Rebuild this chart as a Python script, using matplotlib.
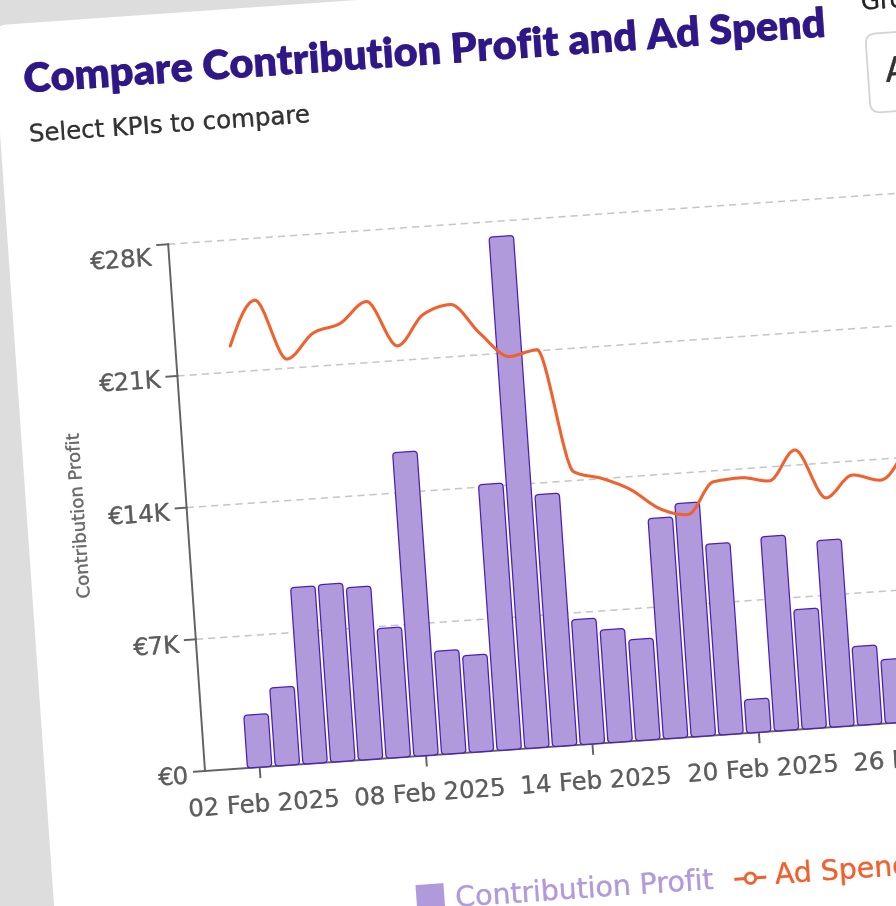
import numpy as np
import pandas as pd
import matplotlib
matplotlib.use('Agg')
import matplotlib.pyplot as plt
import matplotlib.dates as mdates
from matplotlib.transforms import Affine2D
from matplotlib.patches import FancyBboxPatch, Rectangle, Circle, PathPatch
from matplotlib.lines import Line2D
from matplotlib.path import Path

# ---------------- data ----------------
bar_dates = pd.date_range('2025-02-02', '2025-02-25', freq='D')
contribution_profit = [2800, 4150, 9380, 9430, 9170, 6890, 16140, 5480, 5140, 14130,
                       27190, 13390, 6640, 5990, 5370, 11710, 12400, 10140, 1770, 10330,
                       6350, 9920, 4180, 3380]
spend_dates = pd.date_range('2025-02-02', '2025-02-26', freq='D')
ad_spend = [22390, 24720, 21490, 22760, 23180, 24240, 21780, 23340, 23770, 22120,
            20800, 21060, 14480, 14010, 13320, 12200, 11780, 13420, 13530, 13260,
            14800, 12150, 13260, 12890, 14640]
y_ticks = [0, 7000, 14000, 21000, 28000]
y_tick_labels = ['€0', '€7K', '€14K', '€21K', '€28K']
x_tick_dates = pd.to_datetime(['2025-02-02', '2025-02-08', '2025-02-14',
                               '2025-02-20', '2025-02-26'])
x_tick_labels = [d.strftime('%d %b %Y') for d in x_tick_dates]
title_text = 'Compare Contribution Profit and Ad Spend'
subtitle_text = 'Select KPIs to compare'
y_axis_label = 'Contribution Profit'
legend_labels = ['Contribution Profit', 'Ad Spend']
control_label = 'Group by'
control_value = 'All'

# ---------------- style ----------------
plt.rcParams['lines.scale_dashes'] = False
BG = '#dddddd'
BAR_FILL = '#b19adb'
BAR_EDGE = '#4a1fb5'
ORANGE = '#f2602d'
AX_C = '#626262'
GRID_C = '#c6c6c6'
LABEL_C = '#5c5c5c'
TITLE_C = '#2f1787'
FONT = 'DejaVu Sans'
TFONT = 'Lato'

W, H, DPI = 896, 906, 100
fig = plt.figure(figsize=(W / DPI, H / DPI), dpi=DPI)
fig.patch.set_facecolor(BG)
PT2PX = DPI / 72.0

OX, OY = 205.0, H - 771.0      # axes origin in display px
ANG = 4.0                       # whole card is rotated
PX_DAY = 27.8
PLOT_W, PLOT_H = 1000.0, 528.0

ax = fig.add_axes([OX / W, OY / H, PLOT_W / W, PLOT_H / H])
ax.set_axis_off()
ax.patch.set_visible(False)

xb = mdates.date2num(bar_dates)
xs = mdates.date2num(spend_dates)
xt = mdates.date2num(x_tick_dates)
x_left = xb[0] - 54.8 / PX_DAY
x_right = x_left + PLOT_W / PX_DAY
Y_TOP = y_ticks[-1]
ax.set_xlim(x_left, x_right)
ax.set_ylim(0, Y_TOP)
Y_PER_PX = Y_TOP / PLOT_H

rot = Affine2D().rotate_deg_around(OX, OY, ANG)
T = ax.transData + rot


def T_off(du, dv):
    return ax.transData + Affine2D().translate(du, dv) + rot


PX = Affine2D().translate(OX, OY) + rot
renderer = fig.canvas.get_renderer()


def size_for(s, target, **kw):
    t = fig.text(0, 0, s, fontsize=100, **kw)
    w = t.get_window_extent(renderer).width
    t.remove()
    return 100.0 * target / w


def add(a):
    ax.add_artist(a)
    a.set_clip_on(False)
    return a


# card
add(FancyBboxPatch((-160, -700), 1700, 758.5 + 700,
                   boxstyle='round,pad=0,rounding_size=14', transform=PX,
                   facecolor='white', edgecolor='none', zorder=0))

# gridlines
for yv in y_ticks[1:]:
    add(Line2D([x_left, x_right], [yv, yv], transform=T, color=GRID_C, lw=1.1,
               dashes=(5.2, 3.6), zorder=1))

# axes lines + ticks
add(Line2D([x_left, x_left], [0, Y_TOP], transform=T, color=AX_C, lw=1.4, zorder=2))
add(Line2D([x_left, x_right], [0, 0], transform=T, color=AX_C, lw=1.4, zorder=2))
for yv in y_ticks:
    add(Line2D([x_left - 11 / PX_DAY, x_left], [yv, yv], transform=T, color=AX_C,
               lw=1.4, zorder=2))
for xv in xt:
    add(Line2D([xv, xv], [0, -10 * Y_PER_PX], transform=T, color=AX_C, lw=1.4, zorder=2))

# bars (rounded tops)
bars = ax.bar(xb, contribution_profit, width=0.88, transform=T, zorder=3)
rs = 3.5 / PX_DAY
aspect = Y_PER_PX * PX_DAY
for r in bars:
    add(FancyBboxPatch((r.get_x(), r.get_y()), r.get_width(), r.get_height(),
                       boxstyle=f'round,pad=0,rounding_size={rs}', mutation_aspect=aspect,
                       transform=T, facecolor=BAR_FILL, edgecolor=BAR_EDGE, lw=0.9,
                       zorder=3))
    r.remove()


# ad spend line (monotone-x cubic)
def monotone_path(x, y):
    x = np.asarray(x, float)
    y = np.asarray(y, float)
    n = len(x)
    h = np.diff(x)
    s = np.diff(y) / h
    t = np.zeros(n)
    for i in range(1, n - 1):
        h0, h1 = h[i - 1], h[i]
        s0, s1 = s[i - 1], s[i]
        p = (s0 * h1 + s1 * h0) / (h0 + h1)
        sg = (1 if s0 >= 0 else -1) + (1 if s1 >= 0 else -1)
        t[i] = sg * min(abs(s0), abs(s1), 0.5 * abs(p))
    t[0] = (3 * s[0] - t[1]) / 2
    t[-1] = (3 * s[-1] - t[-2]) / 2
    verts = [(x[0], y[0])]
    codes = [Path.MOVETO]
    for i in range(n - 1):
        d = h[i] / 3
        verts += [(x[i] + d, y[i] + d * t[i]), (x[i + 1] - d, y[i + 1] - d * t[i + 1]),
                  (x[i + 1], y[i + 1])]
        codes += [Path.CURVE4] * 3
    return Path(verts, codes)


add(PathPatch(monotone_path(xs, ad_spend), transform=T, facecolor='none',
              edgecolor=ORANGE, lw=2.2, zorder=4, capstyle='round', joinstyle='round'))

# tick labels
fs_tick = size_for('02 Feb 2025', 152, family=FONT)
cap_tick = 0.729 * fs_tick * PT2PX
y_label_dv = [-3, -3, -3, -2, -11]
for yv, lab, dv in zip(y_ticks, y_tick_labels, y_label_dv):
    add(ax.text(x_left, yv, lab, transform=T_off(-17, dv - cap_tick / 2), ha='right',
                va='baseline', rotation=ANG, rotation_mode='anchor', fontsize=fs_tick,
                family=FONT, color=LABEL_C, zorder=5))
for xv, lab in zip(xt, x_tick_labels):
    add(ax.text(xv, 0, lab, transform=T_off(1.5, -36 - cap_tick / 2), ha='center',
                va='baseline', rotation=ANG, rotation_mode='anchor', fontsize=fs_tick,
                family=FONT, color=LABEL_C, zorder=5))

# y axis label
fs_yl = size_for(y_axis_label, 166, family=FONT)
cap_yl = 0.729 * fs_yl * PT2PX
add(ax.text(-108 + cap_yl / 2, 264, y_axis_label, transform=PX, ha='center',
            va='baseline', rotation=90 + ANG, rotation_mode='anchor', fontsize=fs_yl,
            family=FONT, color='#6a6a6a', zorder=5))

# title / subtitle
fs_title = size_for(title_text, 806, family=TFONT, weight='heavy')
add(ax.text(-133, 688.5, title_text, transform=PX, ha='left', va='baseline',
            rotation=ANG, rotation_mode='anchor', fontsize=fs_title, family=TFONT,
            weight='heavy', color=TITLE_C, zorder=5))
fs_sub = size_for(subtitle_text, 280, family=FONT)
add(ax.text(-131, 640, subtitle_text, transform=PX, ha='left', va='baseline',
            rotation=ANG, rotation_mode='anchor', fontsize=fs_sub, family=FONT,
            color='#333333', zorder=5))

# control at top right
add(ax.text(708.5, 713, control_label, transform=PX, ha='left', va='baseline',
            rotation=ANG, rotation_mode='anchor', fontsize=fs_sub, family=FONT,
            color='#222222', zorder=5))
add(FancyBboxPatch((710, 610), 300, 79, boxstyle='round,pad=0,rounding_size=10',
                   transform=PX, facecolor='white', edgecolor='#d4d4d4', lw=1.3, zorder=4))
fs_ctl = 25 / 0.729 / PT2PX
add(ax.text(727, 640, control_value, transform=PX, ha='left', va='baseline',
            rotation=ANG, rotation_mode='anchor', fontsize=fs_ctl, family=FONT,
            color='#333333', zorder=5))

# legend
fs_leg = size_for(legend_labels[0], 259, family=FONT)
cap_leg = 0.729 * fs_leg * PT2PX
add(Rectangle((202, -156.5), 28, 28, transform=PX, facecolor=BAR_FILL,
              edgecolor='none', zorder=5))
add(ax.text(241, -142.5 - cap_leg / 2, legend_labels[0], transform=PX, ha='left',
            va='baseline', rotation=ANG, rotation_mode='anchor', fontsize=fs_leg,
            family=FONT, color=BAR_FILL, zorder=5))
add(Line2D([522, 551], [-145, -145], transform=PX, color=ORANGE, lw=2.2, zorder=5))
add(Circle((536.6, -145), 5.2, transform=PX, facecolor='white', edgecolor=ORANGE,
           lw=2.0, zorder=6))
add(ax.text(561, -142.5 - cap_leg / 2, legend_labels[1], transform=PX, ha='left',
            va='baseline', rotation=ANG, rotation_mode='anchor', fontsize=fs_leg,
            family=FONT, color=ORANGE, zorder=5))

fig.savefig('out.png', dpi=DPI, facecolor=fig.get_facecolor())
